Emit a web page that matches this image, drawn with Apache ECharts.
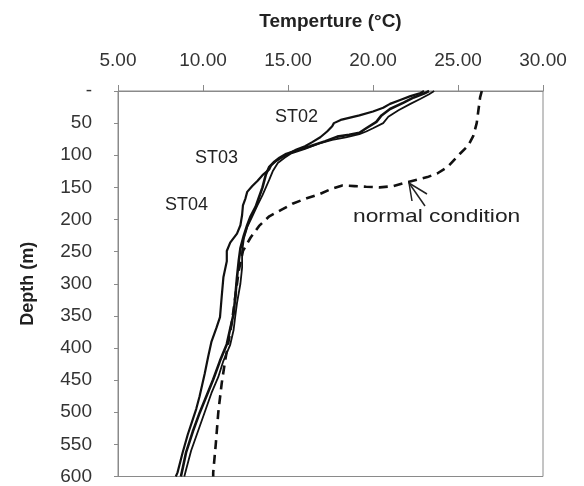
<!DOCTYPE html>
<html lang="en">
<head>
    <meta charset="UTF-8">
    <title>Temperature profile</title>
    <style>
        html, body { margin: 0; padding: 0; background: #fff; }
        #chart { width: 584px; height: 486px; }
    </style>
</head>
<body>
    <div id="chart"></div>
    <script src="https://cdn.jsdelivr.net/npm/echarts@6/dist/echarts.min.js"></script>
    <script>
        // [temperature, depth]
        var st02 = [[23.0,0],[22.8,3],[22.2,8],[21.6,14],[21.0,20],[20.6,26],[20.0,32],[19.2,38],[18.1,45],[17.7,50],[17.6,55],[17.3,63],[16.9,72],[16.4,80],[16.0,86],[15.5,91],[15.0,98],[14.6,104],[14.3,109],[14.0,116],[13.9,122],[13.5,131],[13.2,140],[12.9,148],[12.6,157],[12.5,167],[12.35,178],[12.3,193],[12.2,209],[12.0,222],[11.6,236],[11.4,249],[11.4,265],[11.2,290],[11.1,320],[11.0,352],[10.8,368],[10.5,390],[10.3,414],[10.1,440],[9.8,475],[9.6,495],[9.4,511],[9.1,535],[8.8,563],[8.5,594],[8.4,600]];
        var st03 = [[23.3,0],[23.0,4],[22.4,10],[21.8,18],[21.0,28],[20.5,38],[20.2,48],[19.6,58],[19.2,65],[18.6,68],[17.9,71],[17.2,78],[16.3,86],[15.6,92],[14.9,98],[14.5,104],[14.2,110],[13.9,118],[13.7,130],[13.6,140],[13.5,150],[13.3,165],[13.1,180],[12.8,195],[12.6,209],[12.4,225],[12.2,245],[12.1,265],[12.0,290],[11.9,320],[11.8,347],[11.6,370],[11.4,394],[11.0,420],[10.6,449],[10.2,475],[9.8,501],[9.4,530],[9.0,563],[8.8,588],[8.7,600]];
        var st04 = [[23.6,0],[23.3,5],[22.8,12],[22.2,20],[21.5,30],[20.9,40],[20.6,50],[20.0,58],[19.6,63],[19.2,67],[18.4,72],[17.6,76],[16.8,82],[16.0,90],[15.2,97],[14.8,104],[14.4,112],[14.1,125],[13.9,138],[13.7,150],[13.5,162],[13.2,178],[12.9,195],[12.6,212],[12.4,230],[12.3,250],[12.3,275],[12.2,300],[12.0,330],[11.9,350],[11.8,372],[11.6,395],[11.2,420],[10.9,445],[10.5,470],[10.1,500],[9.7,530],[9.3,560],[9.0,590],[8.9,600]];
        var normal = [[26.4,0],[26.3,10],[26.2,30],[26.1,50],[25.9,70],[25.6,85],[25.1,98],[24.4,118],[23.8,128],[23.2,134],[22.0,142],[21.2,148],[20.4,150],[19.6,149],[18.9,148],[18.2,147],[17.5,153],[16.9,160],[16.1,167],[15.3,175],[14.6,185],[13.9,195],[13.3,210],[12.8,228],[12.35,249],[12.1,280],[11.9,320],[11.7,360],[11.3,420],[11.1,455],[10.9,500],[10.75,550],[10.6,594],[10.6,600]];

        var font = 'Liberation Sans, Arial, sans-serif';
        var chart = echarts.init(document.getElementById('chart'));

        function solid(name, data, w) {
            return {
                name: name, type: 'line', data: data, symbol: 'none', silent: true,
                lineStyle: { color: '#111', width: w }
            };
        }

        chart.setOption({
            animation: false,
            grid: { left: 118, right: 41, top: 91, bottom: 5, show: true, borderColor: '#8a8a8a', borderWidth: 1 },
            xAxis: {
                type: 'value', position: 'top', min: 5, max: 30, interval: 5,
                name: 'Temperture (°C)', nameLocation: 'middle', nameGap: 60,
                nameTextStyle: { fontFamily: font, fontSize: 19, fontWeight: 'bold', color: '#222' },
                axisLine: { show: true, lineStyle: { color: '#8a8a8a' } },
                axisTick: { show: true, length: 6, lineStyle: { color: '#8a8a8a' } },
                axisLabel: { margin: 21, fontFamily: font, fontSize: 19, color: '#333', formatter: function (v) { return v.toFixed(2); } },
                splitLine: { show: false }
            },
            yAxis: {
                type: 'value', inverse: true, min: 0, max: 600, interval: 50,
                name: 'Depth (m)', nameLocation: 'middle', nameGap: 81, nameRotate: 90,
                nameTextStyle: { fontFamily: font, fontSize: 18, fontWeight: 'bold', color: '#222' },
                axisLine: { show: true, lineStyle: { color: '#8a8a8a' } },
                axisTick: { show: true, length: 4, lineStyle: { color: '#8a8a8a' } },
                axisLabel: { margin: 26, fontFamily: font, fontSize: 19, color: '#333', formatter: function (v) { return v === 0 ? '-' : String(v); } },
                splitLine: { show: false }
            },
            graphic: [
                { type: 'text', left: 275, top: 108, style: { text: 'ST02', font: '18px ' + font, fill: '#222' } },
                { type: 'text', left: 195, top: 149, style: { text: 'ST03', font: '18px ' + font, fill: '#222' } },
                { type: 'text', left: 165, top: 196, style: { text: 'ST04', font: '18px ' + font, fill: '#222' } },
                { type: 'text', x: 353, y: 207, scaleX: 1.2, style: { text: 'normal condition', font: '19px ' + font, fill: '#222' } },
                { type: 'polyline', shape: { points: [[412, 201], [409, 183], [427, 194]] }, style: { stroke: '#222', lineWidth: 1.5, fill: null } },
                { type: 'line', shape: { x1: 409, y1: 183, x2: 425, y2: 206 }, style: { stroke: '#222', lineWidth: 1.5 } }
            ],
            series: [
                solid('ST02', st02, 2.2),
                solid('ST03', st03, 2.6),
                solid('ST04', st04, 1.8),
                {
                    name: 'normal condition', type: 'line', data: normal, symbol: 'none', silent: true,
                    lineStyle: { color: '#111', width: 2.6, type: [9, 6] }
                }
            ]
        });
    </script>
</body>
</html>
